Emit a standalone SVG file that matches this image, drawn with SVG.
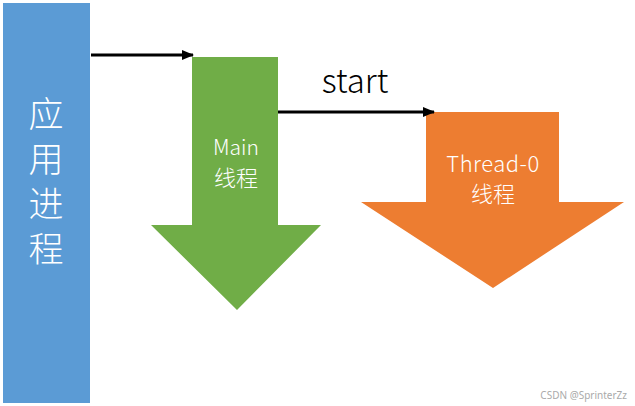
<svg xmlns="http://www.w3.org/2000/svg" width="635" height="406" viewBox="0 0 635 406">
<style>
.lbl{fill:#ffffff;font-family:"Noto Sans CJK SC","Noto Sans",sans-serif;font-weight:300;text-anchor:middle}
.conn{stroke:#000;stroke-width:3;fill:none}
</style>
<defs>
<marker id="ah" markerWidth="12" markerHeight="10" refX="11" refY="5" orient="auto" markerUnits="userSpaceOnUse">
<path d="M0,0 L12,5 L0,10 Z" fill="#000"/>
</marker>
</defs>
<rect width="635" height="406" fill="#ffffff"/>
<g id="app-process">
<rect x="3" y="3" width="87" height="400" fill="#5b9bd5"/>
<text fill="#ffffff" font-family="Noto Sans CJK SC, sans-serif" font-weight="300" font-size="35" x="46" y="96" writing-mode="vertical-rl" letter-spacing="10">应用进程</text>
</g>
<g id="main-thread">
<path d="M192,57 L278,57 L278,225 L321,225 L237,310 L151,225 L192,225 Z" fill="#70ad47"/>
<text class="lbl" font-size="21" x="236" y="155">Main</text>
<text class="lbl" font-size="22" x="236" y="186">线程</text>
</g>
<g id="thread0">
<path d="M426,112 L559,112 L559,202 L624,202 L493,288 L361,202 L426,202 Z" fill="#ed7d31"/>
<text class="lbl" font-size="22" x="493" y="172" letter-spacing="0.5">Thread-0</text>
<text class="lbl" font-size="22" x="493" y="202">线程</text>
</g>
<g id="connectors">
<line class="conn" x1="91" y1="55" x2="193" y2="55" marker-end="url(#ah)"/>
<line class="conn" x1="278" y1="112" x2="434" y2="112" marker-end="url(#ah)"/>
<text x="355" y="93" font-size="33" fill="#000" font-family="Noto Sans CJK SC, Noto Sans, sans-serif" font-weight="300" text-anchor="middle">start</text>
</g>
<text x="627" y="399" font-size="10" fill="#aaaaaa" font-family="Noto Sans, sans-serif" text-anchor="end">CSDN @SprinterZz</text>
</svg>
